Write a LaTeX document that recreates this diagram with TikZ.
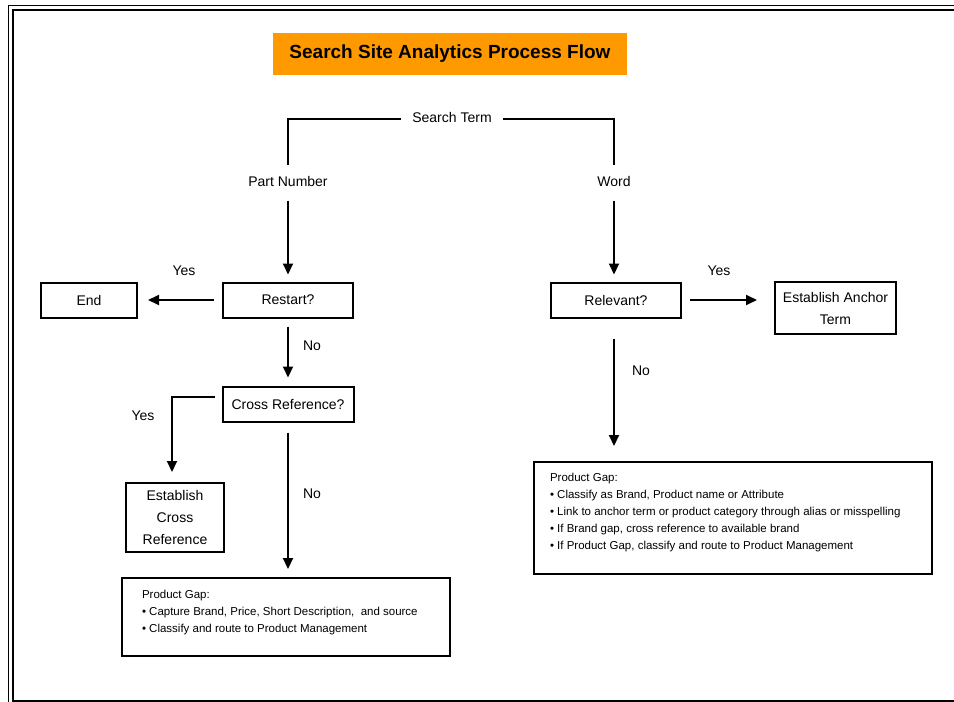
\documentclass[tikz,border=0pt]{standalone}
\usepackage{fontspec}
\setmainfont{Liberation Sans}
\usetikzlibrary{arrows.meta}
\definecolor{titleorange}{RGB}{255,153,0}
\tikzset{
  lbl/.style={font=\fontsize{14}{17}\selectfont, inner sep=0pt, text height=10pt, text depth=3pt},
  stepbox/.style={draw, line width=2pt, font=\fontsize{14}{22}\selectfont, inner sep=2pt, align=center},
  conn/.style={line width=2pt},
  arr/.style={conn, -{Triangle[length=11pt,width=10pt]}},
  gapbox/.style={draw, line width=2pt, inner sep=0pt, font=\fontsize{11.5}{17}\selectfont},
}
\begin{document}
\begin{tikzpicture}[x=1pt,y=-1pt]
\useasboundingbox (0,0) rectangle (954,702);
\fill[white] (0,0) rectangle (954,702);
% frame
\draw[line width=1.2pt] (8.5,5.5) rectangle (975,725);
\draw[line width=2pt] (13,10) rectangle (970,701);
% title
\node[fill=titleorange, minimum width=354pt, minimum height=42pt, inner sep=0pt,
      font=\bfseries\fontsize{19}{22}\selectfont] (title) at (450,54) {Search Site Analytics Process Flow};
% labels on branches
\node[lbl, inner xsep=11pt] (search) at (452,119) {Search Term};
\node[lbl, inner ysep=11pt] (part) at (288,183) {Part Number};
\node[lbl, inner ysep=11pt] (word) at (614,183) {Word};
% boxes
\node[stepbox, minimum width=130pt, minimum height=35pt] (restart) at (288,300) {Restart?};
\node[stepbox, minimum width=96pt, minimum height=35pt] (end) at (89,300) {End};
\node[stepbox, minimum width=131pt, minimum height=35pt] (cross) at (288,404) {Cross Reference?};
\node[stepbox, minimum width=98pt, minimum height=69pt] (estab) at (175,517.5) {Establish\\Cross\\Reference};
\node[stepbox, minimum width=130pt, minimum height=35pt] (relevant) at (616,300) {Relevant?};
\node[stepbox, minimum width=121pt, minimum height=52pt] (anchor) at (835.5,308) {Establish Anchor\\Term};
\node[gapbox, minimum width=328pt, minimum height=78pt] (gapL) at (286,617)
  {\begin{minipage}[c][54pt][t]{288pt}
   \mbox{Product Gap:}\par
   \mbox{• Capture Brand, Price, Short Description,\ \ and source}\par
   \mbox{• Classify and route to Product Management}
   \end{minipage}};
\node[gapbox, minimum width=398pt, minimum height=112pt] (gapR) at (733,518)
  {\begin{minipage}[c][90pt][t]{366pt}
   \mbox{Product Gap:}\par
   \mbox{• Classify as Brand, Product name or Attribute}\par
   \mbox{• Link to anchor term or product category through alias or misspelling}\par
   \mbox{• If Brand gap, cross reference to available brand}\par
   \mbox{• If Product Gap, classify and route to Product Management}
   \end{minipage}};
% Yes / No labels
\node[lbl] (yes1) at (184,272) {Yes};
\node[lbl] (yes2) at (719,272) {Yes};
\node[lbl] (yes3) at (143,417) {Yes};
\node[lbl] (no1) at (312,347) {No};
\node[lbl] (no2) at (312,495) {No};
\node[lbl] (no3) at (641,372) {No};
% connectors
\draw[conn] (search.west) -| (part.north);
\draw[conn] (search.east) -| (word.north);
\draw[arr, shorten >=7pt] (part.south) -- (restart.north);
\draw[arr, shorten >=7pt] (word.south) -- (word.south |- relevant.north);
\draw[arr, shorten <=8pt, shorten >=10pt] (restart.west) -- (end.east);
\draw[arr, shorten <=8pt, shorten >=8pt] (restart.south) -- (restart.south |- cross.north);
\draw[arr] ([xshift=-7pt,yshift=7pt]cross.west) -| ([xshift=-3pt,yshift=10pt]estab.north);
\draw[arr, shorten <=10pt, shorten >=8pt] (cross.south) -- (cross.south |- gapL.north);
\draw[arr, shorten <=8pt, shorten >=17pt] (relevant.east) -- (relevant.east -| anchor.west);
\draw[arr, shorten <=20pt, shorten >=15pt] ([xshift=-2pt]relevant.south) -- ([xshift=-2pt]relevant.south |- gapR.north);
\end{tikzpicture}
\end{document}
